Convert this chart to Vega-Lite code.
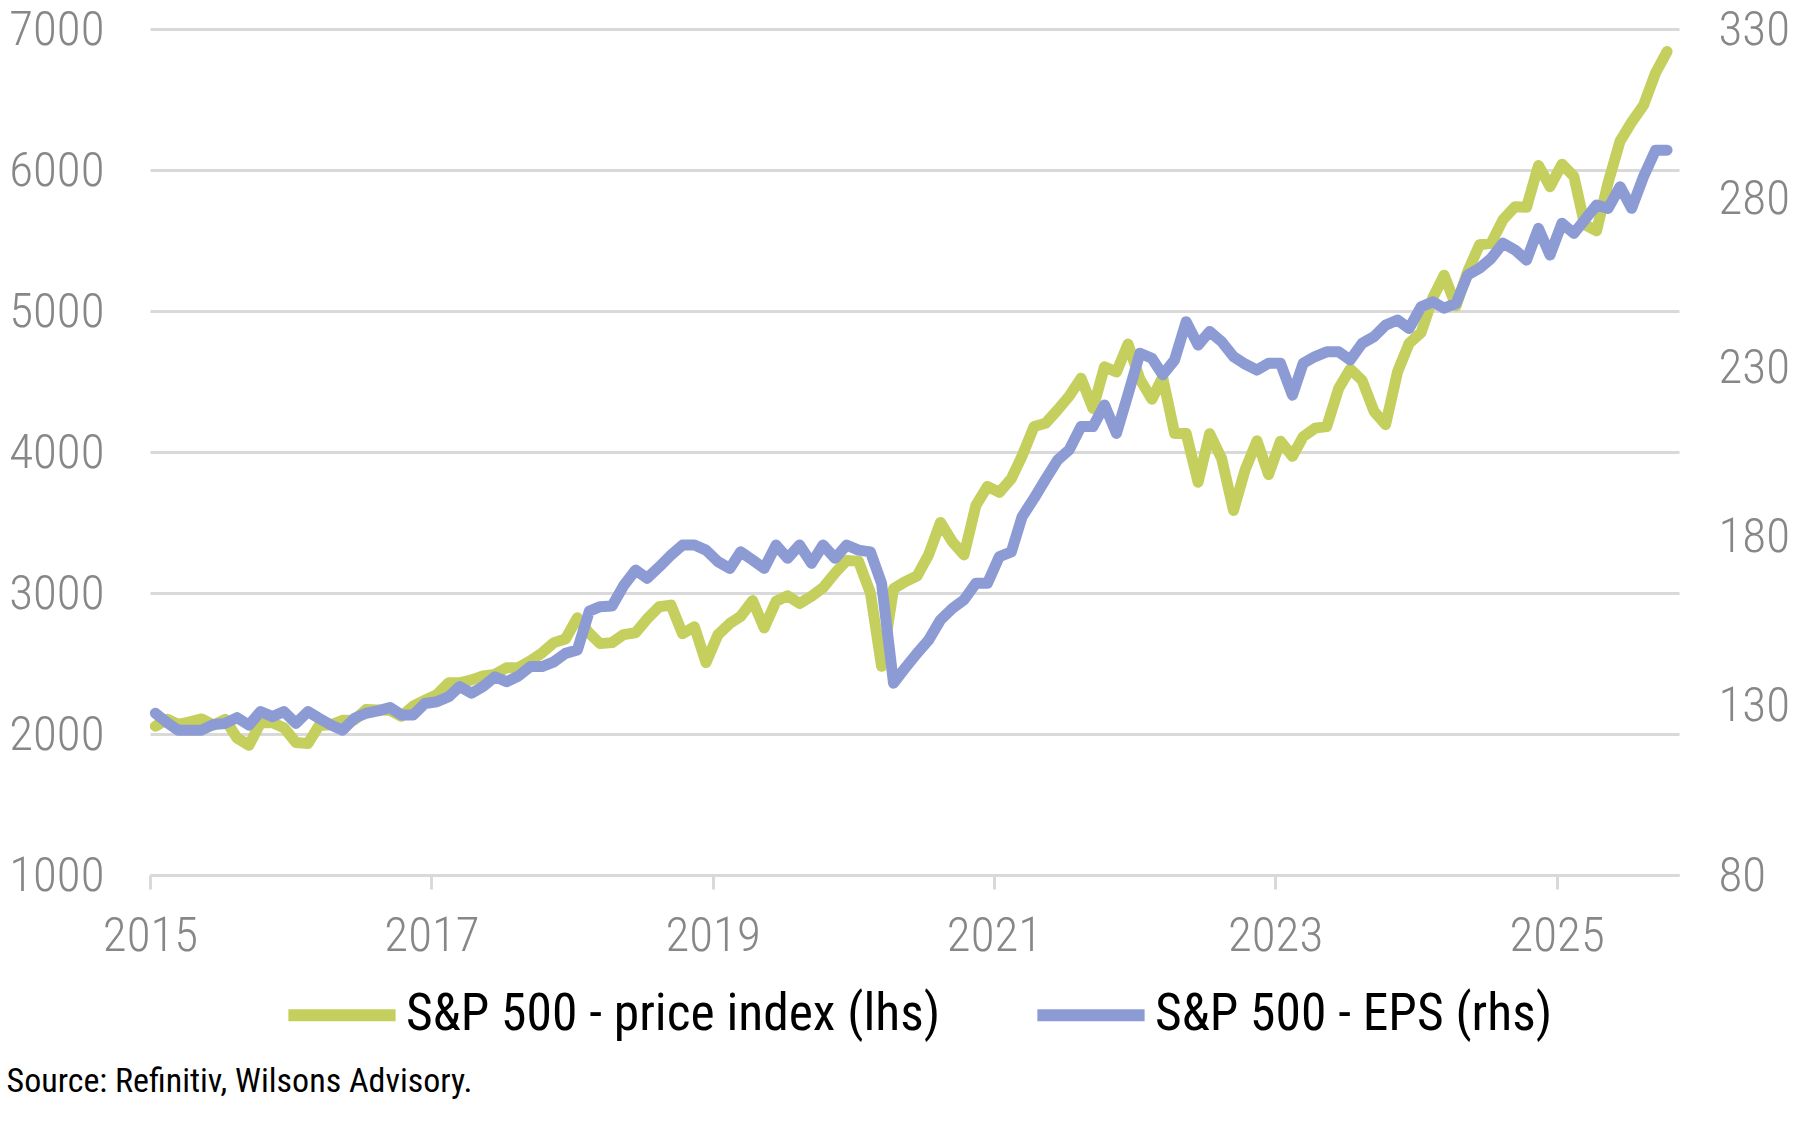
{
  "$schema": "https://vega.github.io/schema/vega-lite/v6.json",
  "autosize": {"type": "none"},
  "width": 1529,
  "height": 846,
  "padding": {"left": 150, "top": 29, "right": 121, "bottom": 255},
  "background": "white",
  "config": {
    "view": {"stroke": null},
    "font": "Roboto Condensed, Roboto, sans-serif",
    "axis": {"labelFont": "Roboto Condensed, Roboto, sans-serif", "labelColor": "#878787", "labelFontSize": 49, "labelFontWeight": 300, "title": null},
    "legend": {"labelFont": "Roboto Condensed, Roboto, sans-serif"}
  },
  "data": {"values": [
    {"date":"2015-01-15","price":2055,"eps":127.8},{"date":"2015-02-15","price":2105,"eps":125},{"date":"2015-03-15","price":2068,"eps":122.8},{"date":"2015-04-15","price":2086,"eps":122.8},{"date":"2015-05-15","price":2107,"eps":122.8},{"date":"2015-06-15","price":2063,"eps":124.5},{"date":"2015-07-15","price":2104,"eps":124.8},{"date":"2015-08-15","price":1972,"eps":126.5},{"date":"2015-09-15","price":1920,"eps":124.3},{"date":"2015-10-15","price":2079,"eps":128.3},{"date":"2015-11-15","price":2080,"eps":126.8},{"date":"2015-12-15","price":2044,"eps":128.3},
    {"date":"2016-01-15","price":1940,"eps":124.8},{"date":"2016-02-15","price":1932,"eps":128.3},{"date":"2016-03-15","price":2060,"eps":126.3},{"date":"2016-04-15","price":2065,"eps":124.3},{"date":"2016-05-15","price":2097,"eps":122.8},{"date":"2016-06-15","price":2099,"eps":126.3},{"date":"2016-07-15","price":2174,"eps":127.8},{"date":"2016-08-15","price":2171,"eps":128.5},{"date":"2016-09-15","price":2168,"eps":129.5},{"date":"2016-10-15","price":2126,"eps":127.3},{"date":"2016-11-15","price":2199,"eps":127.3},{"date":"2016-12-15","price":2239,"eps":130.7},
    {"date":"2017-01-15","price":2279,"eps":131.2},{"date":"2017-02-15","price":2364,"eps":132.7},{"date":"2017-03-15","price":2363,"eps":135.7},{"date":"2017-04-15","price":2384,"eps":133.7},{"date":"2017-05-15","price":2412,"eps":135.7},{"date":"2017-06-15","price":2423,"eps":138.6},{"date":"2017-07-15","price":2470,"eps":137.1},{"date":"2017-08-15","price":2472,"eps":138.8},{"date":"2017-09-15","price":2519,"eps":141.6},{"date":"2017-10-15","price":2575,"eps":141.6},{"date":"2017-11-15","price":2648,"eps":143},{"date":"2017-12-15","price":2674,"eps":145.5},
    {"date":"2018-01-15","price":2824,"eps":146.5},{"date":"2018-02-15","price":2714,"eps":158},{"date":"2018-03-15","price":2641,"eps":159.3},{"date":"2018-04-15","price":2648,"eps":159.5},{"date":"2018-05-15","price":2705,"eps":165.5},{"date":"2018-06-15","price":2718,"eps":170.1},{"date":"2018-07-15","price":2816,"eps":167.7},{"date":"2018-08-15","price":2902,"eps":171},{"date":"2018-09-15","price":2914,"eps":174.5},{"date":"2018-10-15","price":2712,"eps":177.5},{"date":"2018-11-15","price":2760,"eps":177.5},{"date":"2018-12-15","price":2507,"eps":176},
    {"date":"2019-01-15","price":2704,"eps":172.6},{"date":"2019-02-15","price":2784,"eps":170.6},{"date":"2019-03-15","price":2834,"eps":175.5},{"date":"2019-04-15","price":2946,"eps":173.1},{"date":"2019-05-15","price":2752,"eps":170.6},{"date":"2019-06-15","price":2942,"eps":177.5},{"date":"2019-07-15","price":2980,"eps":173.6},{"date":"2019-08-15","price":2926,"eps":177.5},{"date":"2019-09-15","price":2977,"eps":172.1},{"date":"2019-10-15","price":3038,"eps":177.5},{"date":"2019-11-15","price":3141,"eps":173.6},{"date":"2019-12-15","price":3231,"eps":177.5},
    {"date":"2020-01-15","price":3226,"eps":176},{"date":"2020-02-15","price":3000,"eps":175.5},{"date":"2020-03-15","price":2480,"eps":166.2},{"date":"2020-04-15","price":3030,"eps":136.7},{"date":"2020-05-15","price":3080,"eps":141.1},{"date":"2020-06-15","price":3120,"eps":145.5},{"date":"2020-07-15","price":3271,"eps":149.4},{"date":"2020-08-15","price":3500,"eps":155.4},{"date":"2020-09-15","price":3363,"eps":158.8},{"date":"2020-10-15","price":3270,"eps":161.3},{"date":"2020-11-15","price":3622,"eps":166.2},{"date":"2020-12-15","price":3756,"eps":166.2},
    {"date":"2021-01-15","price":3714,"eps":174.1},{"date":"2021-02-15","price":3811,"eps":175.5},{"date":"2021-03-15","price":3973,"eps":185.9},{"date":"2021-04-15","price":4181,"eps":191.3},{"date":"2021-05-15","price":4204,"eps":197},{"date":"2021-06-15","price":4298,"eps":202.6},{"date":"2021-07-15","price":4395,"eps":205.6},{"date":"2021-08-15","price":4523,"eps":212.5},{"date":"2021-09-15","price":4308,"eps":212.5},{"date":"2021-10-15","price":4605,"eps":218.9},{"date":"2021-11-15","price":4567,"eps":210.5},{"date":"2021-12-15","price":4766,"eps":222},
    {"date":"2022-01-15","price":4516,"eps":234.2},{"date":"2022-02-15","price":4374,"eps":232.7},{"date":"2022-03-15","price":4530,"eps":227.8},{"date":"2022-04-15","price":4132,"eps":232.2},{"date":"2022-05-15","price":4132,"eps":243.5},{"date":"2022-06-15","price":3785,"eps":236.6},{"date":"2022-07-15","price":4130,"eps":240.6},{"date":"2022-08-15","price":3955,"eps":237.6},{"date":"2022-09-15","price":3586,"eps":233.2},{"date":"2022-10-15","price":3872,"eps":231},{"date":"2022-11-15","price":4080,"eps":229.2},{"date":"2022-12-15","price":3840,"eps":231.2},
    {"date":"2023-01-15","price":4077,"eps":231.2},{"date":"2023-02-15","price":3970,"eps":221.8},{"date":"2023-03-15","price":4109,"eps":231.2},{"date":"2023-04-15","price":4169,"eps":233.2},{"date":"2023-05-15","price":4180,"eps":234.6},{"date":"2023-06-15","price":4450,"eps":234.6},{"date":"2023-07-15","price":4589,"eps":232.2},{"date":"2023-08-15","price":4508,"eps":237.1},{"date":"2023-09-15","price":4288,"eps":239.1},{"date":"2023-10-15","price":4194,"eps":242.5},{"date":"2023-11-15","price":4568,"eps":244},{"date":"2023-12-15","price":4770,"eps":241.5},
    {"date":"2024-01-15","price":4846,"eps":247.9},{"date":"2024-02-15","price":5096,"eps":249.4},{"date":"2024-03-15","price":5254,"eps":247.5},{"date":"2024-04-15","price":5036,"eps":248.9},{"date":"2024-05-15","price":5278,"eps":257.3},{"date":"2024-06-15","price":5470,"eps":259.3},{"date":"2024-07-15","price":5480,"eps":262.2},{"date":"2024-08-15","price":5648,"eps":266.7},{"date":"2024-09-15","price":5740,"eps":264.7},{"date":"2024-10-15","price":5735,"eps":261.7},{"date":"2024-11-15","price":6032,"eps":271.1},{"date":"2024-12-15","price":5882,"eps":263.2},
    {"date":"2025-01-15","price":6041,"eps":272.6},{"date":"2025-02-15","price":5955,"eps":269.6},{"date":"2025-03-15","price":5612,"eps":273.6},{"date":"2025-04-15","price":5569,"eps":278},{"date":"2025-05-15","price":5912,"eps":277},{"date":"2025-06-15","price":6205,"eps":283.4},{"date":"2025-07-15","price":6339,"eps":277},{"date":"2025-08-15","price":6460,"eps":286.4},{"date":"2025-09-15","price":6688,"eps":294.2},{"date":"2025-10-15","price":6840,"eps":294.2}
  ]},
  "encoding": {
    "x": {
      "field": "date", "type": "temporal",
      "scale": {"domain": [{"year": 2015, "month": 1, "date": 1}, {"year": 2025, "month": 11, "date": 15}]},
      "axis": {
        "values": [{"year": 2015, "month": 1, "date": 1}, {"year": 2017, "month": 1, "date": 1}, {"year": 2019, "month": 1, "date": 1}, {"year": 2021, "month": 1, "date": 1}, {"year": 2023, "month": 1, "date": 1}, {"year": 2025, "month": 1, "date": 1}],
        "format": "%Y",
        "grid": false,
        "domainColor": "#D9D9D9", "domainWidth": 3,
        "ticks": true, "tickColor": "#D9D9D9", "tickWidth": 3, "tickSize": 14,
        "labelPadding": 22, "labelAlign": "center",
        "title": "Source: Refinitiv, Wilsons Advisory.",
        "titleFont": "Roboto Condensed, Roboto, sans-serif",
        "titleFontSize": 34, "titleFontWeight": "normal", "titleColor": "#000000",
        "titleAnchor": "start", "titleAlign": "left", "titleBaseline": "middle",
        "titleX": -144, "titleY": 206
      }
    }
  },
  "layer": [
    {
      "mark": {"type": "line", "strokeWidth": 11, "strokeCap": "round", "strokeJoin": "round"},
      "encoding": {
        "y": {"field": "price", "type": "quantitative",
          "scale": {"domain": [1000, 7000], "nice": false, "zero": false},
          "axis": {"orient": "left", "values": [1000, 2000, 3000, 4000, 5000, 6000, 7000], "format": "d", "grid": true, "gridColor": "#D9D9D9", "gridWidth": 3, "domain": false, "ticks": false, "labelPadding": 46}},
        "color": {"datum": "S&P 500 - price index (lhs)", "type": "nominal",
          "scale": {"domain": ["S&P 500 - price index (lhs)", "S&P 500 - EPS (rhs)"], "range": ["#C4CF5E", "#8D9BD4"]},
          "legend": {"orient": "none", "direction": "horizontal", "legendX": 132, "legendY": 926, "symbolType": "stroke", "symbolSize": 11500, "symbolStrokeWidth": 12, "labelFontSize": 51.5, "labelColor": "#000000", "labelLimit": 1000, "labelOffset": 4, "columnPadding": 72, "title": null}}
      }
    },
    {
      "mark": {"type": "line", "strokeWidth": 11, "strokeCap": "round", "strokeJoin": "round"},
      "encoding": {
        "y": {"field": "eps", "type": "quantitative",
          "scale": {"domain": [80, 330], "nice": false, "zero": false},
          "axis": {"orient": "right", "values": [80, 130, 180, 230, 280, 330], "grid": false, "domain": false, "ticks": false, "labelPadding": 39}},
        "color": {"datum": "S&P 500 - EPS (rhs)", "type": "nominal"}
      }
    }
  ],
  "resolve": {"scale": {"y": "independent"}}
}
